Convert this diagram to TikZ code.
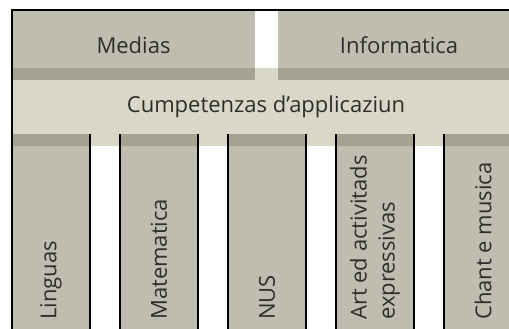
\documentclass[tikz,border=0pt]{standalone}
\usepackage{fontspec}
\setmainfont{Open Sans}
\usetikzlibrary{positioning}

\definecolor{boxgray}{RGB}{190,189,175}
\definecolor{bandgray}{RGB}{216,215,200}
\definecolor{stripgray}{RGB}{164,163,145}
\definecolor{inkgray}{RGB}{45,45,42}

\tikzset{
  area/.style={inner sep=0pt, outer sep=0pt, anchor=north west, text=inkgray},
  topbox/.style={area, fill=boxgray, minimum width=243pt, minimum height=70pt},
  bandbox/.style={area, fill=bandgray, minimum width=508pt, minimum height=78pt},
  colbox/.style={area, fill=boxgray, minimum width=78pt, minimum height=200pt},
  coltext/.style={rotate=90, anchor=west, inner sep=0pt, align=left, text=inkgray},
  borderline/.style={line width=2pt, black},
}

\begin{document}
\begin{tikzpicture}[x=1pt, y=-1pt, font=\fontsize{22}{28}\selectfont]
  \clip (0,0) rectangle (509,329);

  % --- application band (lies under the top boxes) ---
  \node[bandbox] (band) at (12,68) {Cumpetenzas d'applicaziun};

  % --- top boxes ---
  \node[topbox] (medias) at (12,10) {Medias};
  \node[topbox, minimum width=242pt] (informatica) at (278,10) {Informatica};
  \foreach \b in {medias,informatica}{
    \fill[stripgray] (\b.south west) rectangle ([yshift=12pt]\b.south east);
  }

  % --- subject columns ---
  \foreach \i/\col/\lbl in {0/linguas/Linguas, 1/matematica/Matematica, 2/nus/NUS,
    3/art/{Art ed activitads\\expressivas}, 4/chant/Chant e musica}{
    \node[colbox] (\col) at (12+108*\i,134) {};
    \fill[stripgray] (\col.north west) rectangle ([yshift=-12pt]\col.north east);
    \draw[borderline] (\col.north west) -- (\col.south west)
                      (\col.north east) -- (\col.south east);
    \node[coltext] (\col-label) at (51+108*\i,320) {\lbl};
  }

  % --- frame: top and left only ---
  \draw[borderline] (linguas.south west) -- (medias.north west) -- (informatica.north east);

\end{tikzpicture}
\end{document}
